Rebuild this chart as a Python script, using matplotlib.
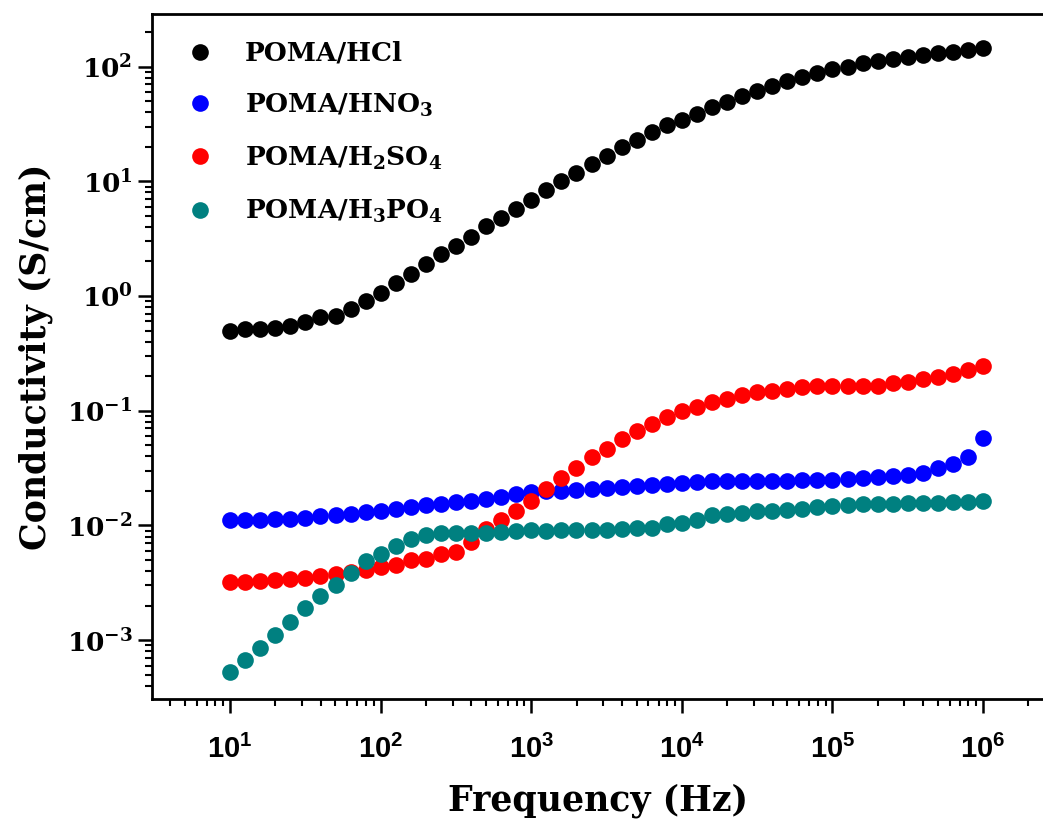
import numpy as np
import matplotlib
matplotlib.use('Agg')
import matplotlib.pyplot as plt
from matplotlib.ticker import LogLocator, NullFormatter

# frequencies: 10 points per decade, 10 Hz .. 1 MHz
freq = np.logspace(1, 6, 51)

hcl = [0.497, 0.513, 0.513, 0.531, 0.548, 0.594, 0.662, 0.67, 0.766, 0.905,
       1.07, 1.31, 1.55, 1.89, 2.31, 2.72, 3.29, 4.06, 4.81, 5.75,
       6.93, 8.35, 10.0, 11.8, 14.2, 16.5, 19.8, 23.0, 26.7, 30.7,
       34.4, 38.8, 44.0, 48.6, 54.8, 61.5, 67.9, 75.1, 80.9, 87.6,
       94.9, 100, 107, 112, 116, 122, 126, 131, 135, 140, 146]

hno3 = [0.01105, 0.01105, 0.01122, 0.01128, 0.01143, 0.01167, 0.01197, 0.01222, 0.01264, 0.01307,
        0.01334, 0.01377, 0.01445, 0.01493, 0.01545, 0.01597, 0.01649, 0.01706, 0.01786, 0.0189,
        0.0195, 0.0198, 0.0200, 0.0203, 0.0207, 0.0213, 0.0216, 0.0220, 0.0227, 0.0231,
        0.0234, 0.0238, 0.0242, 0.0242, 0.0243, 0.0243, 0.0246, 0.0246, 0.0250, 0.0250,
        0.0251, 0.0255, 0.0258, 0.0264, 0.0269, 0.0276, 0.0287, 0.0316, 0.0344, 0.0394, 0.0575]

h2so4 = [0.00322, 0.00322, 0.00326, 0.00333, 0.00339, 0.00349, 0.00363, 0.00380, 0.00393, 0.00406,
         0.00435, 0.00449, 0.00496, 0.00513, 0.00567, 0.00587, 0.00717, 0.00936, 0.01105, 0.01349,
         0.01649, 0.0208, 0.0258, 0.0316, 0.0394, 0.0465, 0.0567, 0.0670, 0.0766, 0.0877,
         0.100, 0.1084, 0.1197, 0.1264, 0.1368, 0.1445, 0.1475, 0.1545, 0.1597, 0.163,
         0.165, 0.165, 0.165, 0.165, 0.173, 0.179, 0.189, 0.198, 0.2085, 0.226, 0.246]

h3po4 = [0.000531, 0.000670, 0.000847, 0.00110, 0.00145, 0.00191, 0.00243, 0.00301, 0.00388, 0.00486,
         0.00567, 0.00662, 0.00766, 0.00830, 0.00859, 0.00859, 0.00859, 0.00865, 0.00877, 0.00887,
         0.00905, 0.00887, 0.00905, 0.00905, 0.00905, 0.00918, 0.00936, 0.00949, 0.00949, 0.01035,
         0.01055, 0.01105, 0.01222, 0.01247, 0.01289, 0.01324, 0.01349, 0.01370, 0.01397, 0.01445,
         0.01476, 0.01493, 0.01525, 0.01525, 0.01545, 0.01567, 0.01567, 0.01578, 0.01597, 0.01597, 0.01617]

labels = ['POMA/HCl', r'POMA/HNO$_\mathdefault{3}$',
          r'POMA/H$_\mathdefault{2}$SO$_\mathdefault{4}$',
          r'POMA/H$_\mathdefault{3}$PO$_\mathdefault{4}$']
colors = ['black', '#0000ff', '#ff0000', '#008080']
series = [hcl, hno3, h2so4, h3po4]

xticks = [1e1, 1e2, 1e3, 1e4, 1e5, 1e6]
yticks = [1e-3, 1e-2, 1e-1, 1e0, 1e1, 1e2]

serif_bold = dict(family='DejaVu Serif', weight='bold')

fig = plt.figure(figsize=(10.43, 8.25), dpi=100)
ax = fig.add_axes([152 / 1043, 1 - 699 / 825, 1 - 152 / 1043, (699 - 14) / 825])

for y, c, lab in zip(series, colors, labels):
    ax.plot(freq, y, 'o', color=c, ms=12, mew=0, label=lab)

ax.set_xscale('log')
ax.set_yscale('log')
ax.set_xlim(3.03, 2.5e6)
ax.set_ylim(3.07e-4, 287)

ax.spines['right'].set_visible(False)
for s in ['top', 'left', 'bottom']:
    ax.spines[s].set_linewidth(2)

ax.set_xticks(xticks)
ax.set_yticks(yticks)
ax.xaxis.set_minor_locator(LogLocator(base=10, subs=np.arange(2, 10), numticks=20))
ax.yaxis.set_minor_locator(LogLocator(base=10, subs=np.arange(2, 10), numticks=20))
ax.xaxis.set_minor_formatter(NullFormatter())
ax.yaxis.set_minor_formatter(NullFormatter())
ax.tick_params(which='major', direction='out', length=10, width=1.8)
ax.tick_params(which='minor', direction='out', length=5, width=1.5)
ax.tick_params(axis='x', which='major', pad=16)
ax.tick_params(axis='y', which='major', pad=4)
ax.tick_params(top=False, right=False, which='both')

for t in ax.get_yticklabels():
    t.set_fontfamily('DejaVu Serif')
    t.set_fontweight('bold')
    t.set_fontsize(19)
for t in ax.get_xticklabels():
    t.set_fontfamily(['Liberation Sans', 'DejaVu Sans'])
    t.set_fontweight('bold')
    t.set_fontsize(21)

ax.set_xlabel('Frequency (Hz)', fontsize=25, labelpad=14, **serif_bold)
ax.set_ylabel('Conductivity (S/cm)', fontsize=25, labelpad=10, **serif_bold)

leg = ax.legend(loc='upper left', bbox_to_anchor=(0.0185, 0.976), frameon=False,
                prop=dict(family='DejaVu Serif', weight='bold', size=19),
                handlelength=1.6, handletextpad=0.9, labelspacing=0.97,
                borderaxespad=0.0)

fig.savefig('out.png', dpi=100)
